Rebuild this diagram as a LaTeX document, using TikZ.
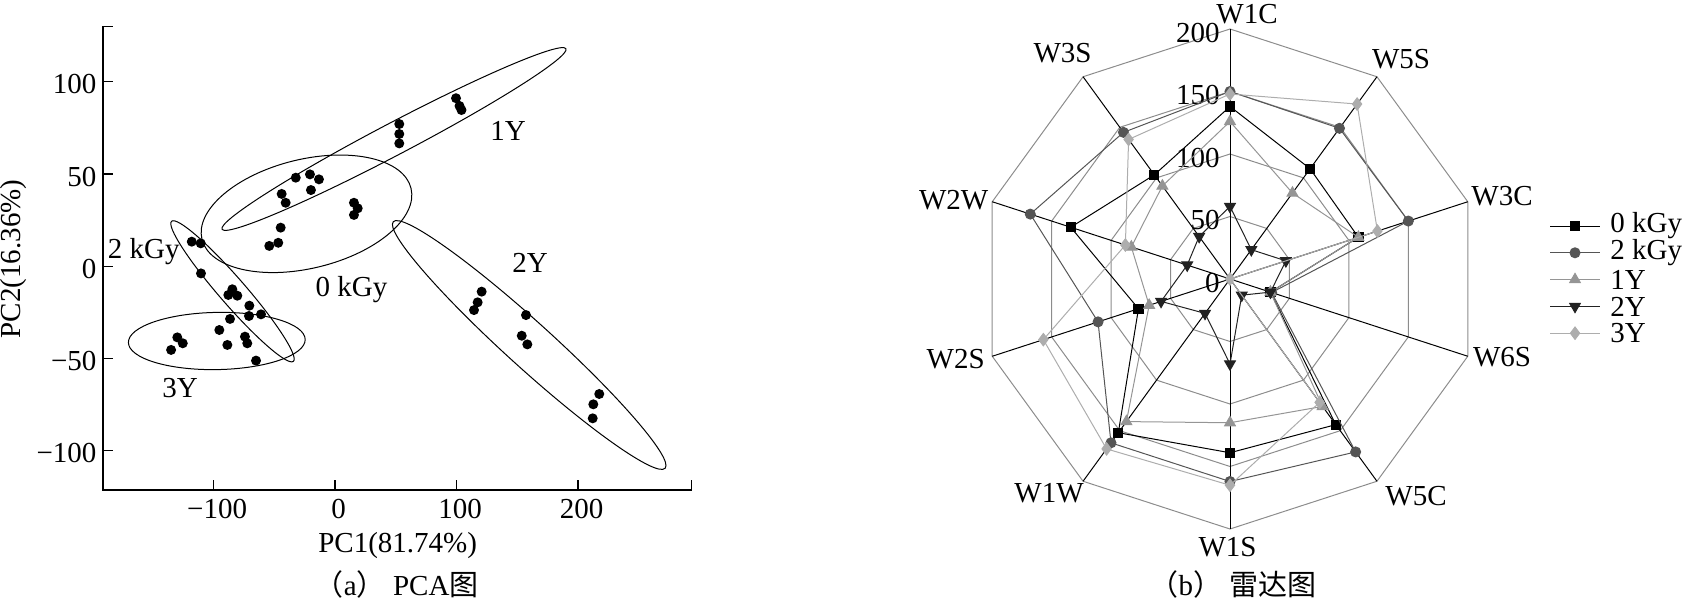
\documentclass[tikz,border=0pt]{standalone}
\usepackage{fontspec}
\setmainfont{Liberation Serif}
\newfontfamily\cjk{Noto Sans CJK SC}
\usetikzlibrary{plotmarks}
\definecolor{ringgray}{HTML}{8C8C8C}
\definecolor{darkgray2k}{HTML}{555555}
\definecolor{midgray1y}{HTML}{959595}
\definecolor{black2y}{HTML}{222222}
\definecolor{light3y}{HTML}{ADADAD}
\tikzset{
  ring/.style={ringgray, line width=0.5pt},
  spoke/.style={black, line width=0.5pt},
  ell/.style={black, line width=0.5pt},
  s0/.style={color=black, line width=0.5pt, mark=square*, mark size=2.3pt},
  s1/.style={color=darkgray2k, line width=0.5pt, mark=*, mark size=2.5pt},
  s2/.style={color=midgray1y, line width=0.5pt, mark=triangle*, mark size=3.1pt},
  s3/.style={color=black2y, line width=0.5pt, mark=triangle*, mark size=3.1pt, mark options={rotate=180}},
  s4/.style={color=light3y, line width=0.5pt, mark=diamond*, mark size=3.1pt},
}

\begin{document}
\begin{tikzpicture}[x=0.5pt, y=-0.5pt, font=\fontsize{14.5pt}{16pt}\selectfont]
\useasboundingbox (0,0) rectangle (1688,599);

% (a) PCA
\begin{scope}[shift={(335,266.2)}, x=0.6075pt, y=0.922pt]
\draw[line width=0.6pt] (-191,130.2) -- (-191,-121.4) -- (293.6,-121.4);
\foreach \v/\t [count=\i] in {-100/−100,-50/−50,0/0,50/50,100/100}
{\draw[line width=0.6pt] (-191,\v) -- ++(8.2,0);
 \node[anchor=east, inner sep=0pt] (ytick\i) at (-196,\v-1.4) {\t};}
\draw[line width=0.6pt] (-191,130.2) -- ++(8.2,0);
\foreach \u/\t [count=\i] in {-100/−100,0/0,100/100,200/200}
{\draw[line width=0.6pt] (\u,-121.4) -- ++(0,5.4);
 \node[anchor=north, inner sep=0pt] (xtick\i) at (\u+3,-126) {\t};}
\draw[line width=0.6pt] (293.6,-121.4) -- ++(0,5.4);
\foreach \x/\y in {99.6/91.1, 102.5/86.9, 104.1/84.7, 52.9/77.1, 52.9/71.7, 52.9/66.6,
  -32.3/48.0, -20.6/49.8, -13.2/47.1, -19.8/41.3, -43.9/39.2, -40.6/34.4,
  15.6/34.4, 18.7/31.4, 15.6/27.8, -44.7/20.9, -46.7/12.7, -54.1/11.0,
  -117.9/13.3, -110.5/12.4, -110.3/-3.9, -84.5/-12.5, -87.8/-15.6, -80.4/-16.0,
  -70.5/-21.4, -70.8/-27.0, -60.9/-26.1, -86.4/-28.6,
  -95.2/-34.6, -74.1/-38.2, -72.2/-41.8, -88.6/-42.7, -65.0/-51.2,
  -129.8/-38.6, -125.3/-41.8, -134.9/-45.4,
  120.7/-13.8, 117.4/-19.6, 114.4/-23.8, 157.2/-26.5, 153.7/-37.7, 158.3/-42.4,
  217.5/-69.3, 212.6/-74.9, 212.1/-82.5}
{\fill (\x,\y) circle (2.5pt);}
\end{scope}

% group ellipses
\draw[ell, rotate around={27.7:(394,139)}] (394,139) ellipse [x radius=97.1pt, y radius=8pt];
\draw[ell, rotate around={13.7:(306.5,213.8)}] (306.5,213.8) ellipse [x radius=53.8pt, y radius=27.25pt];
\draw[ell, rotate around={-49:(232.5,291.3)}] (232.5,291.3) ellipse [x radius=46.4pt, y radius=6.6pt];
\draw[ell, rotate around={1:(216.8,341)}] (216.8,341) ellipse [x radius=44.2pt, y radius=14.3pt];
\draw[ell, rotate around={-42.2:(529.2,345)}] (529.2,345) ellipse [x radius=91.75pt, y radius=11.4pt];

\node (lab1y) at (508,131) {1Y};
\node (lab0k) at (351.5,289.4) {0 kGy};
\node (lab2k) at (143.7,252) {2 kGy};
\node (lab3y) at (180,387.6) {3Y};
\node (lab2y) at (530,263.3) {2Y};
\node (pc1) at (397.7,546) {PC1(81.74\%)};
\node[rotate=90] (pc2) at (13.7,258.8) {PC2(16.36\%)};
\node[inner sep=0pt] (capa) at (396.7,584) {{\cjk （}a{\cjk ）} PCA{\cjk 图}};

% (b) radar
\begin{scope}[shift={(1230,279)}, x=0.625pt, y=0.625pt]
\coordinate (O) at (0,0);
\foreach \r in {50,100,150,200}
  \draw[ring] (90:\r) \foreach \a in {54,18,-18,-54,-90,-126,-162,162,126} {-- (\a:\r)} -- cycle;
\foreach \a in {90,54,...,-234}
  \draw[spoke] (O) -- (\a:200);
\foreach \v in {0,50,100,150,200}
  \node[anchor=east, inner sep=0pt] (r\v) at (-8,\v-3) {\v};
\draw[s0] plot coordinates {(90:138) (54:109) (18:108) (-18:34) (-54:144) (-90:139) (-126:152) (-162:77) (162:134) (126:103)} -- cycle;
\draw[s1] plot coordinates {(90:150) (54:149) (18:150) (-18:35) (-54:171) (-90:162) (-126:162) (-162:111) (162:168) (126:145)} -- cycle;
\draw[s2] plot coordinates {(90:126) (54:85) (18:108) (-18:34) (-54:126) (-90:115) (-126:141) (-162:68) (162:83) (126:92)} -- cycle;
\draw[s3] plot coordinates {(90:58) (54:29) (18:47) (-18:34) (-54:16) (-90:68) (-126:34) (-162:58) (162:36) (126:42)} -- cycle;
\draw[s4] plot coordinates {(90:148) (54:173) (18:124) (-18:0) (-54:122) (-90:165) (-126:168) (-162:157) (162:88) (126:138)} -- cycle;
\end{scope}

\node (w1c) at (1247,14) {W1C};
\node (w5s) at (1401,59) {W5S};
\node (w3c) at (1502,196.5) {W3C};
\node (w6s) at (1502,357.5) {W6S};
\node (w5c) at (1416,496) {W5C};
\node (w1s) at (1227.5,547) {W1S};
\node (w1w) at (1049,493) {W1W};
\node (w2s) at (955.7,359.6) {W2S};
\node (w2w) at (953.7,200) {W2W};
\node (w3s) at (1062.5,53) {W3S};

% legend
\foreach \t/\s [count=\i] in {0 kGy/s0, 2 kGy/s1, 1Y/s2, 2Y/s3, 3Y/s4}
{\pgfmathsetmacro\yy{226+26.8*(\i-1)}
 \draw[\s] (1550,\yy) -- (1600,\yy);
 \draw[\s] plot coordinates {(1575,\yy)};
 \node[anchor=west, inner sep=0pt] (leg\i) at (1610,\yy) {\t};}

\node[inner sep=0pt] (capb) at (1233,584) {{\cjk （}b{\cjk ）} {\cjk 雷达图}};
\end{tikzpicture}
\end{document}
